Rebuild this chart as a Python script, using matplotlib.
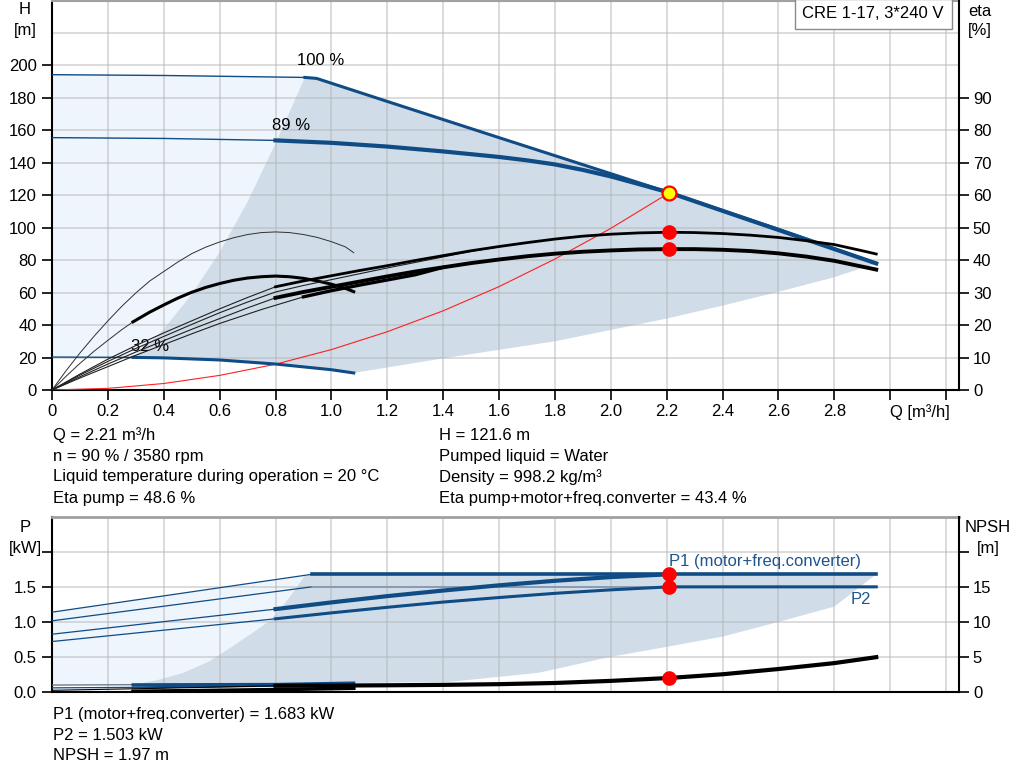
import numpy as np
import matplotlib
matplotlib.use('Agg')
import matplotlib.pyplot as plt

plt.rcParams['font.family'] = ['Liberation Sans', 'DejaVu Sans']
plt.rcParams['font.size'] = 12

BLUE = '#0f4c85'
LIGHT = '#eef5fc'
DARK = '#d0dce8'
GRID = '#b4b4b4'
FS = 12

# ---------------- upper chart data: H [m] ----------------
q100_thin = [0.0, 0.4, 0.905]
h100_thin = [194.3, 193.8, 192.6]
q100 = [0.905, 0.947, 1.2, 1.6, 2.0, 2.21, 2.6, 2.95]
h100 = [192.6, 192.0, 177.8, 155.5, 133.3, 121.6, 99.0, 78.0]

q89_thin = [0.0, 0.4, 0.8]
h89_thin = [155.5, 155.0, 153.8]
q89 = [0.8, 1.0, 1.2, 1.4, 1.6, 1.7, 1.8, 1.9, 2.0, 2.1, 2.21]
h89 = [153.8, 152.3, 150.0, 147.0, 143.6, 141.5, 139.0, 135.6, 131.6, 126.9, 121.6]

q32_thin = [0.0, 0.29]
h32_thin = [20.3, 20.1]
q32 = [0.29, 0.4, 0.6, 0.8, 1.0, 1.08]
h32 = [20.1, 19.8, 18.5, 16.0, 12.5, 10.5]

qmin_edge = [0.29, 0.4, 0.5, 0.6, 0.7, 0.8, 0.905]
hmin_edge = [20.0, 37.5, 59.0, 85.0, 116.0, 152.0, 192.6]
qlow_edge = [1.08, 1.4, 1.8, 2.0, 2.2, 2.4, 2.6, 2.8, 2.95]
hlow_edge = [10.5, 19.5, 30.0, 37.0, 44.0, 52.0, 60.5, 69.5, 78.0]

q_sys = [0.0, 0.2, 0.4, 0.6, 0.8, 1.0, 1.2, 1.4, 1.6, 1.8, 2.0, 2.21]
h_sys = [0.0, 1.0, 4.0, 9.0, 15.9, 24.9, 35.9, 48.8, 63.7, 80.7, 99.6, 121.6]

# efficiency curves [%]
qA = [0.0, 0.05, 0.1, 0.15, 0.2, 0.25, 0.3, 0.35, 0.4, 0.45, 0.5, 0.55, 0.6,
      0.65, 0.7, 0.75, 0.8, 0.85, 0.9, 0.95, 1.0, 1.05, 1.08]
etaA = [0.0, 5.9, 11.4, 16.5, 21.3, 25.8, 29.9, 33.6, 36.5, 39.4, 42.0, 44.0, 45.6,
        46.9, 47.9, 48.5, 48.7, 48.5, 47.9, 47.0, 45.7, 44.1, 42.3]
qB_thin = [0.0, 0.05, 0.1, 0.15, 0.2, 0.25, 0.29]
etaB_thin = [0.0, 4.2, 8.2, 11.9, 15.3, 18.6, 21.0]
qB = [0.29, 0.35, 0.4, 0.45, 0.5, 0.55, 0.6, 0.65, 0.7, 0.75, 0.8, 0.85, 0.9,
      0.95, 1.0, 1.05, 1.08]
etaB = [21.0, 24.0, 26.2, 28.3, 30.1, 31.6, 32.8, 33.8, 34.5, 34.9, 35.1, 34.9, 34.4,
        33.6, 32.6, 31.3, 30.3]
qC_thin = [0.0, 0.1, 0.2, 0.3, 0.4, 0.5, 0.6, 0.7, 0.8]
etaC_thin = [0.0, 4.9, 9.5, 13.7, 17.6, 21.3, 25.0, 28.5, 31.8]
qC = [0.8, 0.9, 1.0, 1.1, 1.2, 1.3, 1.4, 1.5, 1.6, 1.7, 1.8, 1.9, 2.0, 2.1, 2.21,
      2.3, 2.4, 2.5, 2.6, 2.7, 2.8, 2.9, 2.95]
etaC = [31.8, 33.6, 35.2, 36.8, 38.3, 39.9, 41.4, 42.9, 44.2, 45.4, 46.5, 47.4, 48.0,
        48.4, 48.6, 48.5, 48.2, 47.7, 47.0, 46.0, 44.8, 42.9, 41.9]
qF = [0.0, 0.1, 0.2, 0.3, 0.4, 0.5, 0.6, 0.7, 0.8, 0.9, 1.0, 1.1, 1.2, 1.3, 1.4, 1.5, 1.6]
etaF = [0.0, 4.6, 8.8, 12.8, 16.5, 20.2, 23.8, 27.1, 30.2, 32.2, 34.0, 35.8, 37.6,
        39.3, 41.0, 42.7, 44.1]
qD_thin = [0.0, 0.1, 0.2, 0.3, 0.4, 0.5, 0.6, 0.7, 0.8]
etaD_thin = [0.0, 4.1, 8.0, 11.7, 15.2, 18.7, 22.0, 25.3, 28.4]
qD = [0.8, 0.9, 1.0, 1.1, 1.2, 1.3, 1.4, 1.5, 1.6, 1.7, 1.8, 1.9, 2.0, 2.1, 2.21,
      2.3, 2.4, 2.5, 2.6, 2.7, 2.8, 2.9, 2.95]
etaD = [28.4, 30.2, 31.8, 33.4, 35.0, 36.5, 37.8, 39.1, 40.2, 41.2, 42.0, 42.6, 43.0,
        43.3, 43.4, 43.4, 43.2, 42.8, 42.1, 41.1, 39.8, 38.0, 37.1]
qE_thin = [0.0, 0.1, 0.2, 0.3, 0.4, 0.5, 0.6, 0.75, 0.9]
etaE_thin = [0.0, 3.7, 7.2, 10.7, 14.0, 17.3, 20.5, 24.8, 28.7]
qE = [0.9, 1.0, 1.1, 1.2, 1.3, 1.4]
etaE = [28.7, 30.6, 32.3, 33.9, 35.5, 37.8]

# duty point
Q_op = 2.21
H_op = 121.6
eta_pump = 48.6
eta_tot = 43.4

# ---------------- lower chart data: P [kW], NPSH [m] ----------------
qP1_100_thin = [0.0, 0.93]
p1_100_thin = [1.14, 1.683]
qP1_100 = [0.93, 2.95]
p1_100 = [1.683, 1.683]
qP2_100_thin = [0.0, 0.93]
p2_100_thin = [1.016, 1.503]
qP2_100 = [0.93, 2.21]
p2_100 = [1.503, 1.503]
qP1_89_thin = [0.0, 0.8]
p1_89_thin = [0.824, 1.184]
qP1_89 = [0.8, 1.0, 1.2, 1.4, 1.6, 1.8, 2.0, 2.21]
p1_89 = [1.184, 1.28, 1.37, 1.45, 1.525, 1.59, 1.643, 1.683]
qP2_89_thin = [0.0, 0.8]
p2_89_thin = [0.719, 1.045]
qP2_89 = [0.8, 1.0, 1.2, 1.4, 1.6, 1.8, 2.0, 2.21, 2.95]
p2_89 = [1.045, 1.13, 1.21, 1.285, 1.35, 1.41, 1.46, 1.503, 1.503]
qP1_32_thin = [0.0, 0.29]
p1_32_thin = [0.095, 0.1]
qP1_32 = [0.29, 0.8, 1.08]
p1_32 = [0.1, 0.105, 0.125]
qP2_32_thin = [0.0, 0.29]
p2_32_thin = [0.055, 0.062]
qP2_32 = [0.29, 0.8, 1.08]
p2_32 = [0.062, 0.085, 0.1]

qN32 = [0.29, 0.5, 0.8, 1.08]
npsh32 = [0.05, 0.15, 0.3, 0.5]
qN89_thin = [0.0, 0.4, 0.8]
npsh89_thin = [0.2, 0.5, 0.85]
qN89 = [0.8, 1.0, 1.2, 1.4, 1.6, 1.8, 2.0, 2.21, 2.4, 2.6, 2.8, 2.95]
npsh89 = [0.85, 0.88, 0.92, 0.98, 1.08, 1.25, 1.55, 1.97, 2.5, 3.25, 4.1, 4.95]

qPmin_edge = [0.29, 0.38, 0.47, 0.56, 0.65, 0.72, 0.78, 0.84, 0.905]
pmin_edge = [0.1, 0.17, 0.27, 0.43, 0.66, 0.85, 1.02, 1.30, 1.66]
qPlow_edge = [1.08, 1.42, 1.74, 2.0, 2.21, 2.4, 2.6, 2.8, 2.95]
plow_edge = [0.125, 0.14, 0.27, 0.5, 0.65, 0.79, 1.0, 1.22, 1.683]

P1_op = 1.683
P2_op = 1.503
NPSH_op = 1.97

x_ticks = [0, 0.2, 0.4, 0.6, 0.8, 1.0, 1.2, 1.4, 1.6, 1.8, 2.0, 2.2, 2.4, 2.6, 2.8, 3.0, 3.2]
x_labels = ['0', '0.2', '0.4', '0.6', '0.8', '1.0', '1.2', '1.4', '1.6', '1.8', '2.0',
            '2.2', '2.4', '2.6', '2.8', 'Q [m³/h]', '']
h_ticks = [0, 20, 40, 60, 80, 100, 120, 140, 160, 180, 200]
eta_ticks = [0, 10, 20, 30, 40, 50, 60, 70, 80, 90]
p_ticks = [0.0, 0.5, 1.0, 1.5, 2.0]
p_labels = ['0.0', '0.5', '1.0', '1.5', '']
n_ticks = [0, 5, 10, 15, 20]
n_labels = ['0', '5', '10', '15', '']

W, Hfig = 1024, 781
XMAX = (959 - 52) / 279.4

fig = plt.figure(figsize=(10.24, 7.81), dpi=100)

# ================= upper chart =================
ax = fig.add_axes([52 / W, 1 - 390 / Hfig, (959 - 52) / W, 389.5 / Hfig])
ax.set_xlim(0, XMAX)
ax.set_ylim(0, 240)

light_q = q100_thin + qmin_edge[::-1] + q32_thin[::-1]
light_h = h100_thin + hmin_edge[::-1] + h32_thin[::-1]
ax.fill(light_q, light_h, color=LIGHT, lw=0, zorder=1)
dark_q = qmin_edge + q100 + qlow_edge[::-1] + q32[::-1]
dark_h = hmin_edge + h100 + hlow_edge[::-1] + h32[::-1]
ax.fill(dark_q, dark_h, color=DARK, lw=0, zorder=1)

ax.set_xticks(x_ticks)
ax.set_xticklabels(x_labels)
ax.get_xticklabels()[15].set_ha('left')
ax.get_xticklabels()[15].set_x(2.985)
ax.set_yticks(h_ticks)
ax.set_yticks([220, 240], minor=True)
ax.tick_params(axis='y', which='minor', length=0)
ax.grid(True, which='both', color=GRID, alpha=0.5, lw=1.3)
ax.tick_params(direction='out', length=7, width=1.2, pad=3, labelsize=FS)
ax.tick_params(axis='y', pad=4)
for s in ['left', 'bottom']:
    ax.spines[s].set_linewidth(1.5)
ax.spines['top'].set_color('#a0a0a0')
ax.spines['top'].set_linewidth(1.5)
ax.spines['right'].set_visible(False)

ax.plot(q_sys, h_sys, color='#ff2020', lw=0.8, zorder=3)
ax.plot(q100_thin, h100_thin, color=BLUE, lw=1.0, zorder=4)
ax.plot(q100, h100, color=BLUE, lw=2.2, zorder=4)
ax.plot(q89_thin, h89_thin, color=BLUE, lw=1.0, zorder=4)
ax.plot(q89, h89, color=BLUE, lw=3.0, zorder=4)
ax.plot([2.21, 2.95], [121.6, 78.0], color=BLUE, lw=3.0, zorder=4)
ax.plot(q32_thin, h32_thin, color=BLUE, lw=1.0, zorder=4)
ax.plot(q32, h32, color=BLUE, lw=2.2, zorder=4)
ax.plot([Q_op], [H_op], 'o', ms=10, mfc='#ffff00', mec='#ff0000', mew=1.6, zorder=8)

ax.text(0.96, 203, '100 %', ha='center', va='center', fontsize=FS)
ax.text(0.855, 163, '89 %', ha='center', va='center', fontsize=FS)
ax.text(0.35, 27, '32 %', ha='center', va='center', fontsize=FS)

ax2 = ax.twinx()
ax2.set_ylim(0, 120)
ax2.set_yticks(eta_ticks)
ax2.tick_params(direction='out', length=7, width=1.2, pad=3, labelsize=FS)
ax2.spines['right'].set_linewidth(1.5)
for s in ['left', 'bottom', 'top']:
    ax2.spines[s].set_visible(False)

ax2.plot(qA, etaA, color='#303030', lw=0.7, zorder=5)
ax2.plot(qB_thin, etaB_thin, color='#303030', lw=0.7, zorder=5)
ax2.plot(qB, etaB, color='black', lw=2.2, zorder=5)
ax2.plot(qF, etaF, color='#202020', lw=0.8, zorder=5)
ax2.plot(qC_thin, etaC_thin, color='#202020', lw=0.8, zorder=5)
ax2.plot(qC, etaC, color='black', lw=2.0, zorder=5)
ax2.plot(qD_thin, etaD_thin, color='#202020', lw=0.8, zorder=5)
ax2.plot(qD, etaD, color='black', lw=2.8, zorder=5)
ax2.plot(qE_thin, etaE_thin, color='#202020', lw=0.8, zorder=5)
ax2.plot(qE, etaE, color='black', lw=2.4, zorder=5)
ax2.plot([Q_op, Q_op], [eta_pump, eta_tot], 'o', ms=9.5, color='#ff0000', zorder=8)

fig.text(25 / W, 1 - 10 / Hfig, 'H', ha='center', va='center', fontsize=FS)
fig.text(25 / W, 1 - 30 / Hfig, '[m]', ha='center', va='center', fontsize=FS)
fig.text(980 / W, 1 - 11 / Hfig, 'eta', ha='center', va='center', fontsize=FS)
fig.text(980 / W, 1 - 31 / Hfig, '[%]', ha='center', va='center', fontsize=FS)
fig.text(944 / W, 1 - 14 / Hfig, 'CRE 1-17, 3*240 V', ha='right', va='center', fontsize=FS,
         bbox=dict(boxstyle='square,pad=0.45', fc='white', ec='#8a8a8a', lw=1.0))

# text block
left_lines = ['Q = 2.21 m³/h', 'n = 90 % / 3580 rpm',
              'Liquid temperature during operation = 20 °C', 'Eta pump = 48.6 %']
right_lines = ['H = 121.6 m', 'Pumped liquid = Water', 'Density = 998.2 kg/m³',
               'Eta pump+motor+freq.converter = 43.4 %']
for i, (l, r) in enumerate(zip(left_lines, right_lines)):
    y = 1 - (435 + 21 * i) / Hfig
    fig.text(53 / W, y, l, ha='left', va='center', fontsize=FS)
    fig.text(439 / W, y, r, ha='left', va='center', fontsize=FS)

# ================= lower chart =================
bx = fig.add_axes([52 / W, 1 - 691.7 / Hfig, (959 - 52) / W, (691.7 - 517.3) / Hfig])
bx.set_xlim(0, XMAX)
bx.set_ylim(0, 2.5)

light_q2 = qP1_100_thin[:1] + [0.905] + qPmin_edge[::-1] + qP1_32_thin[::-1]
light_p2 = p1_100_thin[:1] + [1.66] + pmin_edge[::-1] + p1_32_thin[::-1]
bx.fill(light_q2, light_p2, color=LIGHT, lw=0, zorder=1)
dark_q2 = qPmin_edge + qP1_100 + qPlow_edge[::-1] + qP1_32[::-1]
dark_p2 = pmin_edge + p1_100 + plow_edge[::-1] + p1_32[::-1]
bx.fill(dark_q2, dark_p2, color=DARK, lw=0, zorder=1)

bx.set_xticks(x_ticks)
bx.set_xticklabels([])
bx.tick_params(axis='x', length=0)
bx.set_yticks(p_ticks)
bx.set_yticklabels(p_labels)
bx.grid(True, which='major', color=GRID, alpha=0.5, lw=1.3)
bx.tick_params(axis='y', direction='out', length=7, width=1.2, pad=4, labelsize=FS)
for s in ['left', 'bottom']:
    bx.spines[s].set_linewidth(1.5)
bx.spines['top'].set_color('#a0a0a0')
bx.spines['top'].set_linewidth(2.0)
bx.spines['right'].set_visible(False)

bx.plot(qP1_100_thin, p1_100_thin, color=BLUE, lw=0.9, zorder=4)
bx.plot(qP1_100, p1_100, color=BLUE, lw=2.6, zorder=4)
bx.plot(qP2_100_thin, p2_100_thin, color=BLUE, lw=0.9, zorder=4)
bx.plot(qP2_100, p2_100, color='#7f93ab', lw=1.2, zorder=4)
bx.plot(qP1_89_thin, p1_89_thin, color=BLUE, lw=0.9, zorder=4)
bx.plot(qP1_89, p1_89, color=BLUE, lw=3.0, zorder=4)
bx.plot(qP2_89_thin, p2_89_thin, color=BLUE, lw=0.9, zorder=4)
bx.plot(qP2_89, p2_89, color=BLUE, lw=2.2, zorder=4)
bx.plot(qP1_32_thin, p1_32_thin, color='#5a6f88', lw=0.9, zorder=4)
bx.plot(qP1_32, p1_32, color=BLUE, lw=2.2, zorder=4)
bx.plot(qP2_32_thin, p2_32_thin, color=BLUE, lw=0.9, zorder=4)
bx.plot(qP2_32, p2_32, color=BLUE, lw=1.6, zorder=4)
bx.plot([Q_op, Q_op], [P1_op, P2_op], 'o', ms=9.5, color='#ff0000', zorder=8)

bx.text(2.21, 1.86, 'P1 (motor+freq.converter)', color='#1d5590', ha='left', va='center', fontsize=FS)
bx.text(2.895, 1.32, 'P2', color='#1d5590', ha='center', va='center', fontsize=FS)

bx2 = bx.twinx()
bx2.set_ylim(0, 25)
bx2.set_yticks(n_ticks)
bx2.set_yticklabels(n_labels)
bx2.tick_params(direction='out', length=7, width=1.2, pad=3, labelsize=FS)
bx2.spines['right'].set_linewidth(1.5)
for s in ['left', 'bottom', 'top']:
    bx2.spines[s].set_visible(False)
bx2.plot(qN32, npsh32, color='black', lw=2.6, zorder=5)
bx2.plot(qN89_thin, npsh89_thin, color='black', lw=0.8, zorder=5)
bx2.plot(qN89, npsh89, color='black', lw=3.0, zorder=5)
bx2.plot([Q_op], [NPSH_op], 'o', ms=9.5, color='#ff0000', zorder=8)

fig.text(25 / W, 1 - 528 / Hfig, 'P', ha='center', va='center', fontsize=FS)
fig.text(25 / W, 1 - 548 / Hfig, '[kW]', ha='center', va='center', fontsize=FS)
fig.text(988 / W, 1 - 528 / Hfig, 'NPSH', ha='center', va='center', fontsize=FS)
fig.text(988 / W, 1 - 548 / Hfig, '[m]', ha='center', va='center', fontsize=FS)

bottom_lines = ['P1 (motor+freq.converter) = 1.683 kW', 'P2 = 1.503 kW', 'NPSH = 1.97 m']
for i, t in enumerate(bottom_lines):
    fig.text(53 / W, 1 - (714 + 21 * i) / Hfig, t, ha='left', va='center', fontsize=FS)

fig.savefig('out.png', dpi=100)
